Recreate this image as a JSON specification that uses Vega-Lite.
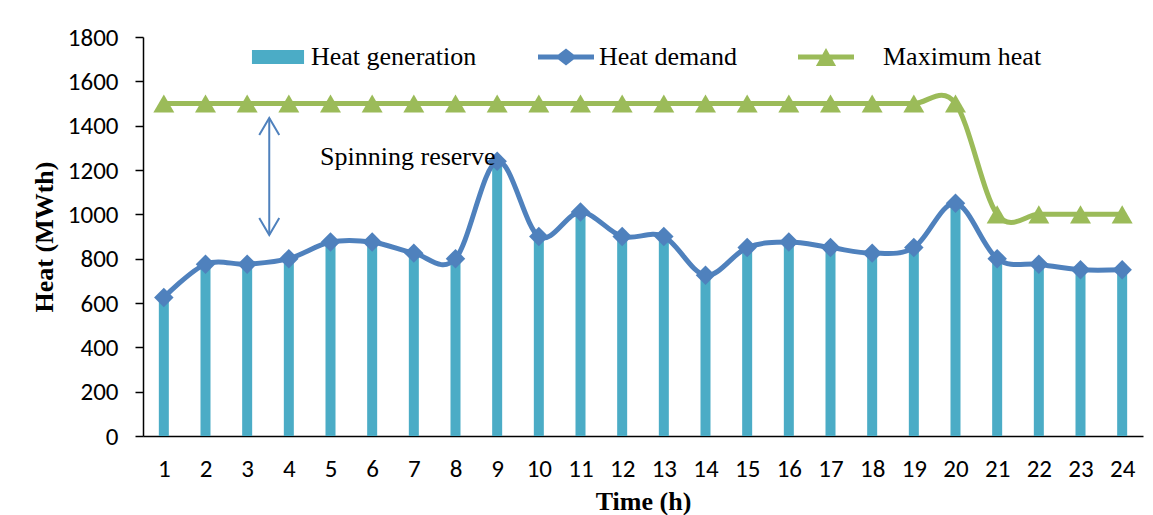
{
  "$schema": "https://vega.github.io/schema/vega-lite/v6.json",
  "width": 1000,
  "height": 399,
  "autosize": {"type": "none"},
  "padding": {"left": 143, "top": 37, "right": 10, "bottom": 79},
  "background": "white",
  "config": {
    "view": {"stroke": null},
    "axis": {
      "domainColor": "#000000",
      "domainWidth": 1.5,
      "tickColor": "#000000",
      "labelColor": "#000000",
      "labelFont": "Carlito, Open Sans",
      "labelFontSize": 25,
      "titleFont": "Liberation Serif",
      "titleFontSize": 26,
      "titleFontWeight": "bold",
      "titleColor": "#000000",
      "grid": false
    }
  },
  "datasets": {
    "heat": [
      {"hour": 1, "generation": 625, "demand": 625, "maximum": 1500},
      {"hour": 2, "generation": 775, "demand": 775, "maximum": 1500},
      {"hour": 3, "generation": 775, "demand": 775, "maximum": 1500},
      {"hour": 4, "generation": 800, "demand": 800, "maximum": 1500},
      {"hour": 5, "generation": 875, "demand": 875, "maximum": 1500},
      {"hour": 6, "generation": 875, "demand": 875, "maximum": 1500},
      {"hour": 7, "generation": 825, "demand": 825, "maximum": 1500},
      {"hour": 8, "generation": 800, "demand": 800, "maximum": 1500},
      {"hour": 9, "generation": 1240, "demand": 1240, "maximum": 1500},
      {"hour": 10, "generation": 900, "demand": 900, "maximum": 1500},
      {"hour": 11, "generation": 1010, "demand": 1010, "maximum": 1500},
      {"hour": 12, "generation": 900, "demand": 900, "maximum": 1500},
      {"hour": 13, "generation": 900, "demand": 900, "maximum": 1500},
      {"hour": 14, "generation": 725, "demand": 725, "maximum": 1500},
      {"hour": 15, "generation": 850, "demand": 850, "maximum": 1500},
      {"hour": 16, "generation": 875, "demand": 875, "maximum": 1500},
      {"hour": 17, "generation": 850, "demand": 850, "maximum": 1500},
      {"hour": 18, "generation": 825, "demand": 825, "maximum": 1500},
      {"hour": 19, "generation": 850, "demand": 850, "maximum": 1500},
      {"hour": 20, "generation": 1050, "demand": 1050, "maximum": 1500},
      {"hour": 21, "generation": 800, "demand": 800, "maximum": 1000},
      {"hour": 22, "generation": 775, "demand": 775, "maximum": 1000},
      {"hour": 23, "generation": 750, "demand": 750, "maximum": 1000},
      {"hour": 24, "generation": 750, "demand": 750, "maximum": 1000}
    ],
    "reserveArrow": [
      {"hour": 3.53, "top": 1435, "bottom": 907}
    ],
    "arrowHeads": [
      {"hour": 3.53, "value": 1435, "dir": "up"},
      {"hour": 3.53, "value": 907, "dir": "down"}
    ],
    "notes": [
      {"hour": 4.75, "value": 1222, "label": "Spinning reserve"}
    ]
  },
  "encoding": {
    "x": {
      "field": "hour",
      "type": "quantitative",
      "scale": {"domain": [0.5, 24.5], "nice": false, "zero": false, "padding": 0},
      "axis": {
        "title": "Time (h)",
        "values": [1, 2, 3, 4, 5, 6, 7, 8, 9, 10, 11, 12, 13, 14, 15, 16, 17, 18, 19, 20, 21, 22, 23, 24],
        "format": "d",
        "ticks": false,
        "labelPadding": 20,
        "labelFlush": false,
        "titlePadding": 7
      }
    }
  },
  "layer": [
    {
      "data": {"name": "heat"},
      "mark": {"type": "bar", "size": 10},
      "encoding": {
        "y": {
          "field": "generation",
          "type": "quantitative",
          "scale": {"domain": [0, 1800], "nice": false},
          "axis": {
            "title": "Heat (MWth)",
            "values": [0, 200, 400, 600, 800, 1000, 1200, 1400, 1600, 1800],
            "format": "d",
            "tickSize": 8,
            "tickWidth": 1.5,
            "labelPadding": 17,
            "titlePadding": 10
          }
        },
        "color": {
          "datum": "Heat generation",
          "scale": {
            "domain": ["Heat generation", "Heat demand", "Maximum heat"],
            "range": ["#4BACC6", "#4F81BD", "#9BBB59"]
          },
          "legend": {
            "title": null,
            "orient": "none",
            "direction": "horizontal",
            "columns": 3,
            "legendX": 107,
            "legendY": -8,
            "padding": 0,
            "columnPadding": 61,
            "symbolSize": 3136,
            "labelOffset": 5,
            "labelFont": "Liberation Serif",
            "labelFontSize": 26,
            "labelColor": "#000000",
            "labelLimit": 400,
            "encode": {
              "symbols": {
                "update": {
                  "shape": {"signal": "datum.value === 'Heat generation' ? 'M-0.93,-0.25H0.93V0.25H-0.93Z' : datum.value === 'Heat demand' ? 'M-1,-0.09H1V0.09H-1Z M-0.39,0L0,-0.3L0.39,0L0,0.3Z' : 'M-1,-0.09H1V0.09H-1Z M0,-0.32L0.36,0.32H-0.36Z'"},
                  "fill": {"signal": "datum.value === 'Heat generation' ? '#4BACC6' : datum.value === 'Heat demand' ? '#4F81BD' : '#9BBB59'"},
                  "stroke": {"value": "transparent"},
                  "strokeWidth": {"value": 0},
                  "size": {"value": 3136},
                  "opacity": {"value": 1}
                }
              },
              "labels": {
                "update": {
                  "dx": {"signal": "datum.value === 'Maximum heat' ? 24 : 0"}
                }
              }
            }
          }
        }
      }
    },
    {
      "data": {"name": "heat"},
      "mark": {"type": "line", "interpolate": "cardinal", "tension": 0, "strokeWidth": 5},
      "encoding": {
        "y": {"field": "demand", "type": "quantitative"},
        "color": {"datum": "Heat demand"}
      }
    },
    {
      "data": {"name": "heat"},
      "mark": {"type": "point", "shape": "diamond", "filled": true, "opacity": 1, "size": 380},
      "encoding": {
        "y": {"field": "demand", "type": "quantitative"},
        "color": {"datum": "Heat demand"}
      }
    },
    {
      "data": {"name": "heat"},
      "mark": {"type": "line", "interpolate": "cardinal", "tension": 0, "strokeWidth": 5},
      "encoding": {
        "y": {"field": "maximum", "type": "quantitative"},
        "color": {"datum": "Maximum heat"}
      }
    },
    {
      "data": {"name": "heat"},
      "mark": {"type": "point", "shape": "triangle-up", "filled": true, "opacity": 1, "size": 440},
      "encoding": {
        "y": {"field": "maximum", "type": "quantitative"},
        "color": {"datum": "Maximum heat"}
      }
    },
    {
      "data": {"name": "reserveArrow"},
      "mark": {"type": "rule", "color": "#4F81BD", "strokeWidth": 2},
      "encoding": {
        "y": {"field": "top", "type": "quantitative"},
        "y2": {"field": "bottom"}
      }
    },
    {
      "data": {"name": "arrowHeads"},
      "mark": {"type": "point", "filled": false, "opacity": 1, "color": "#4F81BD", "strokeWidth": 2, "size": 1600},
      "encoding": {
        "y": {"field": "value", "type": "quantitative"},
        "shape": {
          "field": "dir",
          "type": "nominal",
          "scale": {"domain": ["up", "down"], "range": ["M-0.5,0.85L0,0L0.5,0.85", "M-0.5,-0.85L0,0L0.5,-0.85"]},
          "legend": null
        }
      }
    },
    {
      "data": {"name": "notes"},
      "mark": {"type": "text", "align": "left", "baseline": "alphabetic", "font": "Liberation Serif", "fontSize": 26, "color": "#000000"},
      "encoding": {
        "y": {"field": "value", "type": "quantitative"},
        "text": {"field": "label"}
      }
    }
  ]
}
